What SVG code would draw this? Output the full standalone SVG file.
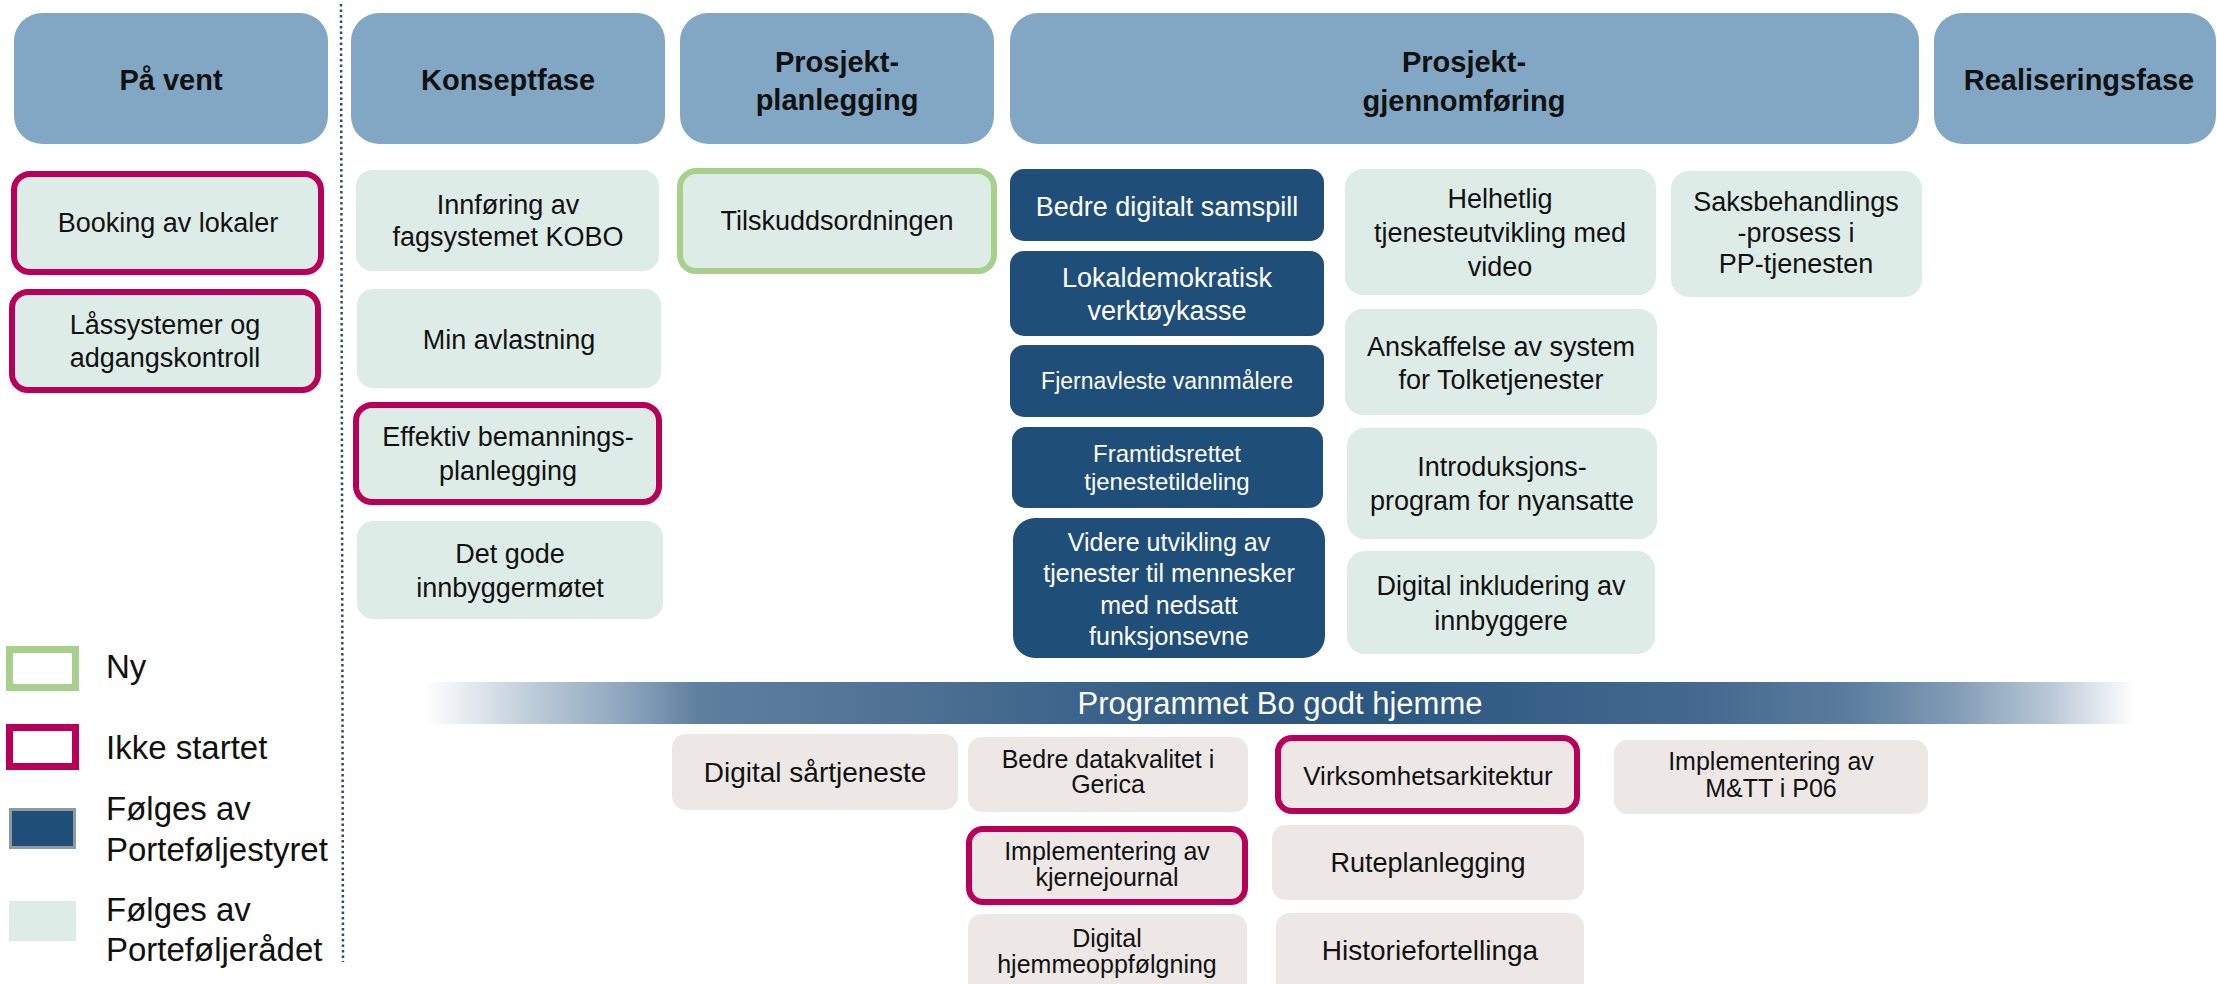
<svg xmlns="http://www.w3.org/2000/svg" width="2217" height="984" viewBox="0 0 2217 984">
<defs>
<style>
.hdr{fill:#82a7c4}
.lg{fill:#deece7}
.db{fill:#1f4e79}
.gr{fill:#ede8e6}
.mg{stroke:#b8005a;stroke-width:6}
.ng{stroke:#a8d08d;stroke-width:6}
text{font-family:"Liberation Sans",Arial,sans-serif;text-anchor:middle;dominant-baseline:central;fill:#111}
.ht{font-weight:bold;font-size:29px}
.t{font-size:27px}
.w{fill:#ffffff}
.leg{font-size:33px;text-anchor:start}
</style>
<linearGradient id="band" gradientUnits="userSpaceOnUse" x1="424" y1="0" x2="2135" y2="0">
<stop offset="0" stop-color="#ffffff"/>
<stop offset="0.027" stop-color="#e4e9ef"/>
<stop offset="0.068" stop-color="#b9c8d6"/>
<stop offset="0.115" stop-color="#8fa8bf"/>
<stop offset="0.161" stop-color="#5f7f9f"/>
<stop offset="0.278" stop-color="#4f7294"/>
<stop offset="0.483" stop-color="#2b5680"/>
<stop offset="0.57" stop-color="#2c5882"/>
<stop offset="0.746" stop-color="#45698f"/>
<stop offset="0.833" stop-color="#5a7d9e"/>
<stop offset="0.892" stop-color="#7f9ab4"/>
<stop offset="0.95" stop-color="#b8c7d6"/>
<stop offset="1" stop-color="#ffffff"/>
</linearGradient>
</defs>
<rect width="2217" height="984" fill="#ffffff"/>

<line x1="341" y1="4" x2="343" y2="962" stroke="#2f4a7a" stroke-width="2.5" stroke-dasharray="2.5 3"/>

<g id="headers">
<g id="h-pavent"><rect class="hdr" x="14" y="13" width="314" height="131" rx="28"/><text class="ht" x="171" y="80">På vent</text></g>
<g id="h-konsept"><rect class="hdr" x="351" y="13" width="314" height="131" rx="28"/><text class="ht" x="508" y="80">Konseptfase</text></g>
<g id="h-planl"><rect class="hdr" x="680" y="13" width="314" height="131" rx="28"/><text class="ht" x="837" y="62">Prosjekt-</text><text class="ht" x="837" y="100">planlegging</text></g>
<g id="h-gjenn"><rect class="hdr" x="1010" y="13" width="909" height="131" rx="28"/><text class="ht" x="1464" y="62">Prosjekt-</text><text class="ht" x="1464" y="101">gjennomføring</text></g>
<g id="h-real"><rect class="hdr" x="1934" y="13" width="282" height="131" rx="28"/><text class="ht" x="2079" y="80">Realiseringsfase</text></g>
</g>

<g id="n-booking"><rect class="lg mg" x="14" y="174" width="307" height="98" rx="16"/><text class="t" x="168" y="223">Booking av lokaler</text></g>
<g id="n-lass"><rect class="lg mg" x="12" y="292" width="306" height="98" rx="16"/><text class="t" x="165" y="325">Låssystemer og</text><text class="t" x="165" y="358">adgangskontroll</text></g>

<g id="n-kobo"><rect class="lg" x="356" y="170" width="303" height="101" rx="16"/><text class="t" x="508" y="205">Innføring av</text><text class="t" x="508" y="237">fagsystemet KOBO</text></g>
<g id="n-minavl"><rect class="lg" x="357" y="289" width="304" height="99" rx="16"/><text class="t" x="509" y="340">Min avlastning</text></g>
<g id="n-effektiv"><rect class="lg mg" x="356" y="405" width="303" height="97" rx="16"/><text class="t" x="508" y="437">Effektiv bemannings-</text><text class="t" x="508" y="471">planlegging</text></g>
<g id="n-detgode"><rect class="lg" x="357" y="521" width="306" height="98" rx="16"/><text class="t" x="510" y="554">Det gode</text><text class="t" x="510" y="588">innbyggermøtet</text></g>

<g id="n-tilskudd"><rect class="lg ng" x="680" y="171" width="314" height="100" rx="16"/><text class="t" x="837" y="221">Tilskuddsordningen</text></g>

<g id="n-samspill"><rect class="db" x="1010" y="169" width="314" height="72" rx="14"/><text class="t w" x="1167" y="207">Bedre digitalt samspill</text></g>
<g id="n-lokaldemo"><rect class="db" x="1010" y="251" width="314" height="85" rx="14"/><text class="t w" x="1167" y="278">Lokaldemokratisk</text><text class="t w" x="1167" y="311">verktøykasse</text></g>
<g id="n-fjern"><rect class="db" x="1010" y="345" width="314" height="72" rx="14"/><text class="w" style="font-size:23px" x="1167" y="381">Fjernavleste vannmålere</text></g>
<g id="n-framtid"><rect class="db" x="1012" y="427" width="311" height="81" rx="14"/><text class="w" style="font-size:24px" x="1167" y="453">Framtidsrettet</text><text class="w" style="font-size:24px" x="1167" y="481">tjenestetildeling</text></g>
<g id="n-videre"><rect class="db" x="1013" y="518" width="312" height="140" rx="22"/><text class="w" style="font-size:25px" x="1169" y="542">Videre utvikling av</text><text class="w" style="font-size:25px" x="1169" y="573">tjenester til mennesker</text><text class="w" style="font-size:25px" x="1169" y="605">med nedsatt</text><text class="w" style="font-size:25px" x="1169" y="636">funksjonsevne</text></g>

<g id="n-helhetlig"><rect class="lg" x="1345" y="169" width="311" height="126" rx="18"/><text class="t" x="1500" y="199">Helhetlig</text><text class="t" x="1500" y="233">tjenesteutvikling med</text><text class="t" x="1500" y="267">video</text></g>
<g id="n-saksb"><rect class="lg" x="1671" y="171" width="251" height="126" rx="18"/><text class="t" x="1796" y="202">Saksbehandlings</text><text class="t" x="1796" y="233">-prosess i</text><text class="t" x="1796" y="264">PP-tjenesten</text></g>
<g id="n-anskaff"><rect class="lg" x="1345" y="309" width="312" height="106" rx="18"/><text class="t" x="1501" y="347">Anskaffelse av system</text><text class="t" x="1501" y="380">for Tolketjenester</text></g>
<g id="n-intro"><rect class="lg" x="1347" y="428" width="310" height="111" rx="18"/><text class="t" x="1502" y="467">Introduksjons-</text><text class="t" x="1502" y="501">program for nyansatte</text></g>
<g id="n-inkl"><rect class="lg" x="1347" y="551" width="308" height="103" rx="18"/><text class="t" x="1501" y="586">Digital inkludering av</text><text class="t" x="1501" y="621">innbyggere</text></g>

<g id="n-program"><rect x="424" y="682" width="1711" height="42" fill="url(#band)"/><text class="w" style="font-size:31px" x="1280" y="703">Programmet Bo godt hjemme</text></g>

<g id="n-sartj"><rect class="gr" x="672" y="734" width="286" height="76" rx="14"/><text style="font-size:28px" x="815" y="772">Digital sårtjeneste</text></g>
<g id="n-datakval"><rect class="gr" x="968" y="737" width="280" height="75" rx="14"/><text style="font-size:25px" x="1108" y="759">Bedre datakvalitet i</text><text style="font-size:25px" x="1108" y="784">Gerica</text></g>
<g id="n-kjerne"><rect class="gr mg" x="969" y="829" width="276" height="73" rx="14"/><text style="font-size:25px" x="1107" y="851">Implementering av</text><text style="font-size:25px" x="1107" y="877">kjernejournal</text></g>
<g id="n-hjemme"><rect class="gr" x="968" y="914" width="279" height="84" rx="14"/><text style="font-size:25px" x="1107" y="938">Digital</text><text style="font-size:25px" x="1107" y="964">hjemmeoppfølgning</text></g>
<g id="n-virks"><rect class="gr mg" x="1278" y="738" width="299" height="73" rx="14"/><text style="font-size:26px" x="1428" y="776">Virksomhetsarkitektur</text></g>
<g id="n-rute"><rect class="gr" x="1272" y="825" width="312" height="75" rx="14"/><text class="t" x="1428" y="863">Ruteplanlegging</text></g>
<g id="n-historie"><rect class="gr" x="1276" y="913" width="308" height="85" rx="14"/><text style="font-size:28px" x="1430" y="950">Historiefortellinga</text></g>
<g id="n-mtt"><rect class="gr" x="1614" y="740" width="314" height="74" rx="14"/><text style="font-size:25px" x="1771" y="761">Implementering av</text><text style="font-size:25px" x="1771" y="788">M&amp;TT i P06</text></g>

<g id="legend">
<g id="l-ny"><rect x="9.5" y="649.5" width="66" height="38" fill="#ffffff" stroke="#a8d08d" stroke-width="7"/><text class="leg" x="106" y="666">Ny</text></g>
<g id="l-ikke"><rect x="9.5" y="727.5" width="66" height="39" fill="#ffffff" stroke="#b8005a" stroke-width="7"/><text class="leg" x="106" y="747">Ikke startet</text></g>
<g id="l-styret"><rect x="10.5" y="809.5" width="64" height="38" fill="#1f4e79" stroke="#8d9aa5" stroke-width="3"/><text class="leg" x="106" y="808">Følges av</text><text class="leg" x="106" y="849">Porteføljestyret</text></g>
<g id="l-radet"><rect x="9" y="901" width="67" height="40" fill="#deece7"/><text class="leg" x="106" y="909">Følges av</text><text class="leg" x="106" y="949">Porteføljerådet</text></g>
</g>

<g id="connectors"/>
</svg>
